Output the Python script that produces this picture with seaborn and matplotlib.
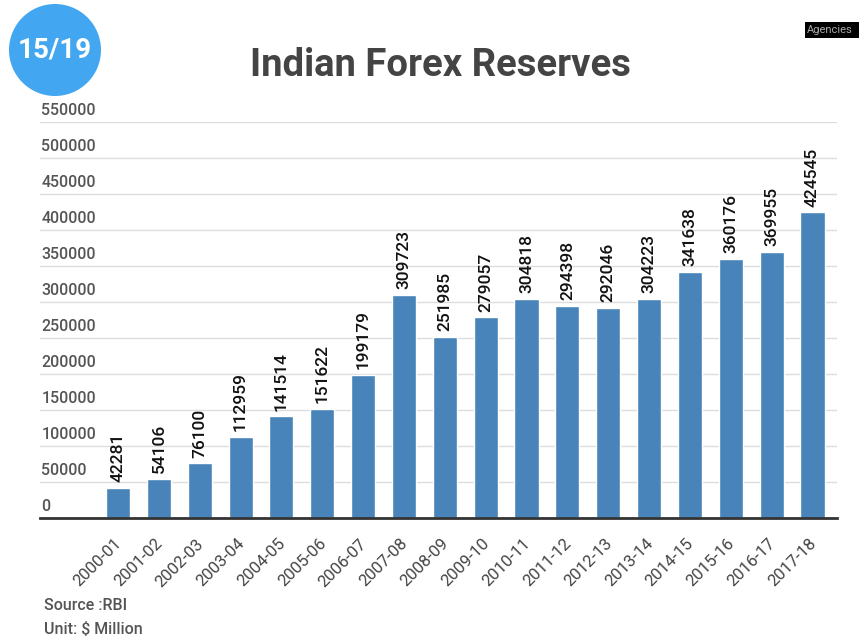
import matplotlib
matplotlib.use("Agg")
import matplotlib.pyplot as plt
import matplotlib.patches as mpatches
from matplotlib.transforms import offset_copy, ScaledTranslation
import seaborn as sns
import pandas as pd

# Forex reserves by financial year (US$ million), source: RBI
years = ["2000-01", "2001-02", "2002-03", "2003-04", "2004-05", "2005-06",
         "2006-07", "2007-08", "2008-09", "2009-10", "2010-11", "2011-12",
         "2012-13", "2013-14", "2014-15", "2015-16", "2016-17", "2017-18"]
reserves = [42281, 54106, 76100, 112959, 141514, 151622, 199179, 309723,
            251985, 279057, 304818, 294398, 292046, 304223, 341638, 360176,
            369955, 424545]
y_ticks = [0, 50000, 100000, 150000, 200000, 250000, 300000, 350000,
           400000, 450000, 500000, 550000]

sns.set_theme(style="white")
plt.rcParams["font.family"] = ["Roboto", "DejaVu Sans"]

W, H = 859, 639
fig = plt.figure(figsize=(W / 100, H / 100), dpi=100)
fig.patch.set_facecolor("white")
ax = fig.add_axes([40 / W, 1 - 518 / H, (837 - 40) / W, (518 - 122) / H])

df = pd.DataFrame({"year": years, "reserves": reserves})
sns.barplot(data=df, x="year", y="reserves", color="#4884b9", saturation=1,
            width=0.59, ax=ax)

ax.set_xlim(-1.91, 17.6)
ax.set_ylim(0, 550000)
ax.set_xlabel("")
ax.set_ylabel("")
for s in ["top", "right", "left"]:
    ax.spines[s].set_visible(False)
ax.spines["bottom"].set_color("#333333")
ax.spines["bottom"].set_linewidth(2)

# horizontal gridlines with labels sitting on top of each line
ax.set_yticks(y_ticks)
ax.set_yticklabels([])
ax.tick_params(axis="y", length=0)
ax.yaxis.grid(True, color="#dddddd", linewidth=1)
ax.set_axisbelow(True)
lab_tr = offset_copy(ax.get_yaxis_transform(), fig=fig, x=1, y=3, units="points")
for v in y_ticks:
    ax.text(0, v, f"{v}", transform=lab_tr, ha="left", va="bottom",
            fontsize=11.5, color="#555555", fontweight="medium")

# x tick labels
ax.tick_params(axis="x", length=0, pad=13)
shift = ScaledTranslation(-4 / 100, 0, fig.dpi_scale_trans)
for lbl in ax.get_xticklabels():
    lbl.set_rotation(45)
    lbl.set_ha("right")
    lbl.set_rotation_mode("anchor")
    lbl.set_fontsize(12)
    lbl.set_color("#444444")
    lbl.set_transform(lbl.get_transform() + shift)

# value labels above bars
for i, v in enumerate(reserves):
    ax.annotate(f"{v}", (i, v), xytext=(0, 4), textcoords="offset points",
                rotation=90, ha="center", va="bottom", fontsize=12.5,
                fontweight="medium", color="#111111")

# title
fig.text(440 / W, 1 - 66 / H, "Indian Forex Reserves", ha="center", va="center",
         fontsize=27.5, fontweight="bold", color="#444444")

# slide badge
fig.patches.append(mpatches.Ellipse((55 / W, 1 - 50 / H), 92 / W, 92 / H,
                                    transform=fig.transFigure,
                                    facecolor="#42a7f0", edgecolor="none"))
fig.text(55 / W, 1 - 50 / H, "15/19", ha="center", va="center", fontsize=20,
         fontweight="bold", color="white")

# agency tag
fig.patches.append(mpatches.Rectangle((805 / W, 1 - 38 / H), 54 / W, 16 / H,
                                      transform=fig.transFigure,
                                      facecolor="black", edgecolor="none"))
fig.text(807 / W, 1 - 30 / H, "Agencies", ha="left", va="center", fontsize=8,
         color="#aaaaaa")

# footnotes
fig.text(44 / W, 1 - 605 / H, "Source :RBI", ha="left", va="center",
         fontsize=11.5, color="#555555", fontweight="medium")
fig.text(44 / W, 1 - 630 / H, "Unit: $ Million", ha="left", va="center",
         fontsize=11.5, color="#555555", fontweight="medium")

fig.savefig("out.png", dpi=100)
